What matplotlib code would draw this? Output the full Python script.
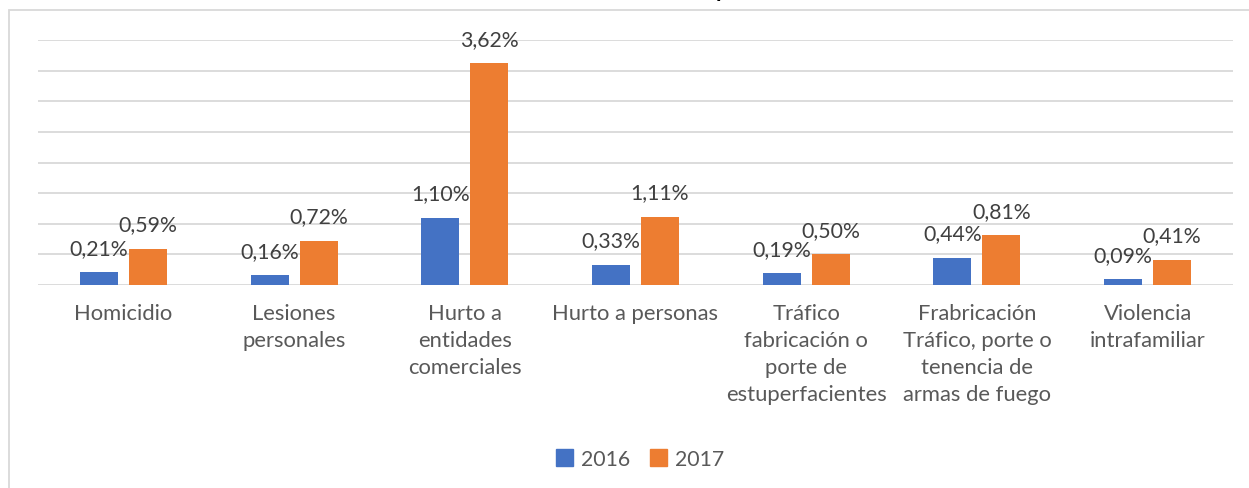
import numpy as np
import matplotlib
matplotlib.use('Agg')
import matplotlib.pyplot as plt
from matplotlib.patches import Rectangle, Patch

# datos
categorias = ['Homicidio', 'Lesiones\npersonales', 'Hurto a\nentidades\ncomerciales',
              'Hurto a personas', 'Tráfico\nfabricación o\nporte de\nestuperfacientes',
              'Frabricación\nTráfico, porte o\ntenencia de\narmas de fuego',
              'Violencia\nintrafamiliar']
v2016 = [0.21, 0.16, 1.10, 0.33, 0.19, 0.44, 0.09]
v2017 = [0.59, 0.72, 3.62, 1.11, 0.50, 0.81, 0.41]
series = ['2016', '2017']
colores = ['#4472C4', '#ED7D31']

plt.rcParams['font.family'] = ['Lato', 'DejaVu Sans']

fig = plt.figure(figsize=(12.49, 4.89), dpi=100)
ax = fig.add_axes([38/1249, 1-286/489, (1233-38)/1249, (286-41)/489])

x = np.arange(len(categorias))
w = 0.2226
off = 0.1435
b1 = ax.bar(x - off, v2016, w, color=colores[0], zorder=3)
b2 = ax.bar(x + off, v2017, w, color=colores[1], zorder=3)

# etiquetas de datos
for barras, vals in [(b1, v2016), (b2, v2017)]:
    for r, v in zip(barras, vals):
        ax.annotate(('%.2f%%' % v).replace('.', ','),
                    (r.get_x() + r.get_width()/2, r.get_height()),
                    xytext=(0, 13.3), textcoords='offset points',
                    ha='center', va='baseline', fontsize=15.3, color='#404040',
                    zorder=4)

ax.set_xlim(-0.5, len(categorias) - 0.5)
ax.set_ylim(0, 4.0)
ax.set_yticks(np.arange(0, 4.01, 0.5))
ax.yaxis.grid(True, color='#D9D9D9', linewidth=1.3)
ax.set_axisbelow(True)
ax.tick_params(axis='y', left=False, labelleft=False)
ax.tick_params(axis='x', length=0, pad=13)
ax.set_xticks(x)
ax.set_xticklabels(categorias, fontsize=15.8, color='#595959', linespacing=1.43, va='top')
for s in ax.spines.values():
    s.set_visible(False)

# borde del grafico
fig.patches.append(Rectangle((9/1249, -0.2), 1.2, 1.2 - 11/489, transform=fig.transFigure,
                             fill=False, edgecolor='#D9D9D9', linewidth=1.3, clip_on=False))

# resto del titulo (cortado en la imagen original)
fig.text(722/1249, 1 + 3/489, 'p', fontsize=16, fontweight='bold', ha='center',
         va='baseline', color='#000000')

handles = [Patch(color=c) for c in colores]
fig.legend(handles, series, loc='center', bbox_to_anchor=(640/1249, 1-460/489), ncol=2,
           frameon=False, fontsize=15.3, labelcolor='#595959', handlelength=0.8,
           handleheight=0.8, handletextpad=0.4, columnspacing=0.9)

fig.savefig('out.png', dpi=100)
